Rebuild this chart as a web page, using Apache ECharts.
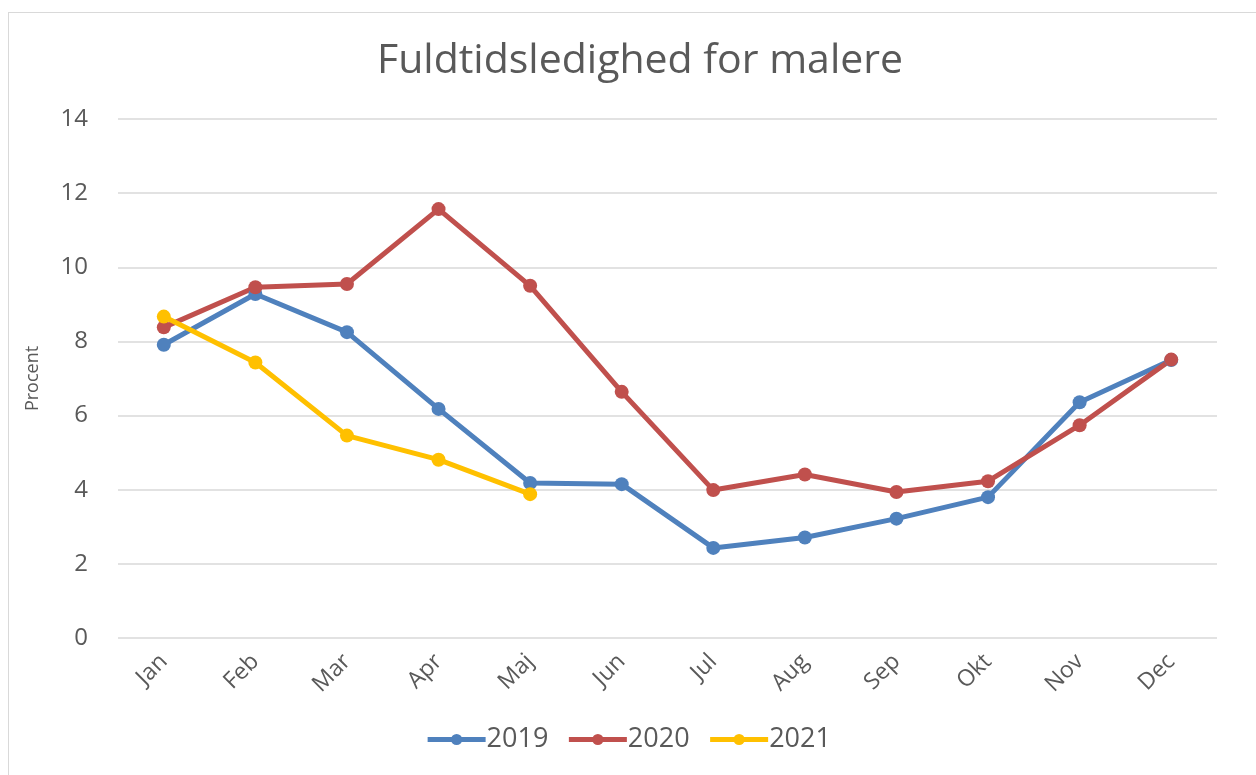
<!DOCTYPE html>
<html>
<head>
<meta charset="utf-8">
<script src="https://cdn.jsdelivr.net/npm/echarts@6/dist/echarts.min.js"></script>
<style>
  html, body { margin: 0; padding: 0; background: #fff; }
  #frame { position: absolute; left: 8px; top: 12px; width: 1260px; height: 780px; border: 1px solid #d9d9d9; }
  #chart { position: absolute; left: 0; top: 0; width: 1256px; height: 775px; }
</style>
</head>
<body>
<div id="frame"></div>
<div id="chart"></div>
<script>
// måneder
var months = ['Jan', 'Feb', 'Mar', 'Apr', 'Maj', 'Jun', 'Jul', 'Aug', 'Sep', 'Okt', 'Nov', 'Dec'];
var yTicks = [0, 2, 4, 6, 8, 10, 12, 14];

var data2019 = [7.91, 9.28, 8.25, 6.18, 4.18, 4.15, 2.43, 2.71, 3.22, 3.80, 6.36, 7.50];
var data2020 = [8.38, 9.46, 9.55, 11.57, 9.50, 6.64, 3.99, 4.41, 3.94, 4.23, 5.74, 7.51];
var data2021 = [8.67, 7.43, 5.46, 4.81, 3.88];

var chart = echarts.init(document.getElementById('chart'));

function lineSeries(name, color, data) {
    return {
        name: name,
        type: 'line',
        data: data,
        symbol: 'circle',
        symbolSize: 14,
        lineStyle: { color: color, width: 5 },
        itemStyle: { color: color },
        emphasis: { disabled: true }
    };
}

var option = {
    animation: false,
    title: {
        text: 'Fuldtidsledighed for malere',
        left: 372,
        top: 36,
        textStyle: { fontFamily: 'Open Sans', fontSize: 41, fontWeight: 'normal', color: '#595959' }
    },
    legend: {
        bottom: 17,
        left: 'center',
        itemWidth: 58,
        itemHeight: 14,
        itemGap: 18,
        lineStyle: { width: 5 },
        textStyle: { fontFamily: 'Open Sans', fontSize: 27, color: '#595959', padding: [0, 0, 0, -4] },
        data: ['2019', '2020', '2021']
    },
    grid: { left: 118, right: 39, top: 119, bottom: 137 },
    xAxis: {
        type: 'category',
        data: months,
        boundaryGap: true,
        axisLine: { show: false },
        axisTick: { show: false },
        axisLabel: {
            rotate: 45,
            margin: 20,
            fontFamily: 'Open Sans',
            fontSize: 23,
            color: '#595959'
        }
    },
    yAxis: {
        type: 'value',
        min: yTicks[0],
        max: yTicks[yTicks.length - 1],
        interval: 2,
        name: 'Procent',
        nameLocation: 'middle',
        nameGap: 76,
        nameTextStyle: { fontFamily: 'Open Sans', fontSize: 18, color: '#595959' },
        axisLine: { show: false },
        axisTick: { show: false },
        axisLabel: { fontFamily: 'Open Sans', fontSize: 24, color: '#595959', margin: 30 },
        splitLine: { lineStyle: { color: '#d9d9d9', width: 1.5 } }
    },
    series: [
        lineSeries('2019', '#4F81BD', data2019),
        lineSeries('2020', '#C0504D', data2020),
        lineSeries('2021', '#FFC000', data2021)
    ]
};

chart.setOption(option);
</script>
</body>
</html>
